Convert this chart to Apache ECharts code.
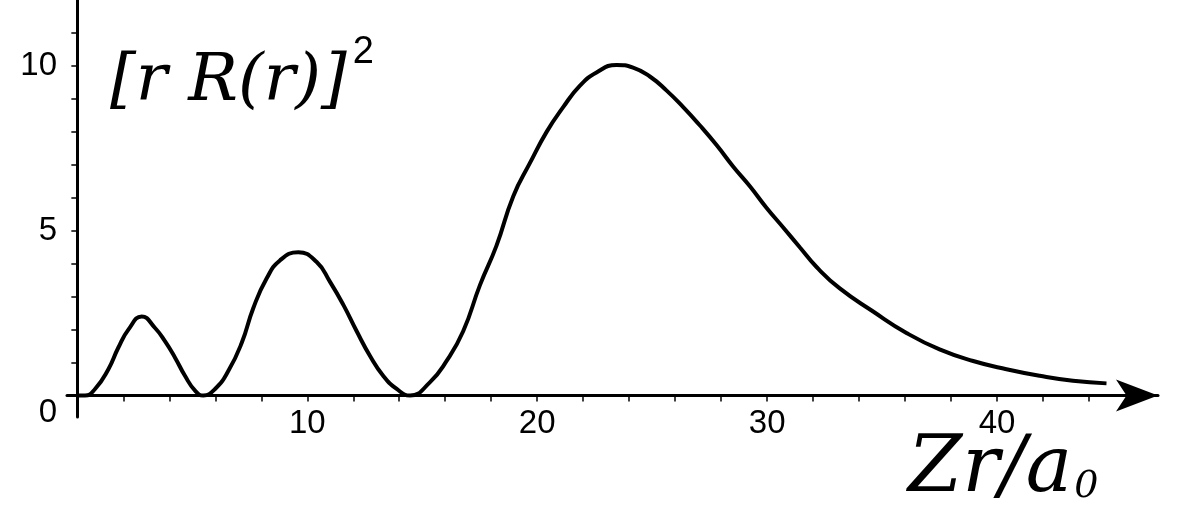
<!DOCTYPE html>
<html>
<head>
<meta charset="utf-8">
<script src="https://cdn.jsdelivr.net/npm/echarts@6/dist/echarts.min.js"></script>
<style>
html,body{margin:0;padding:0;background:#fff;}
#chart{width:1184px;height:511px;}
</style>
</head>
<body>
<div id="chart"></div>
<script>
// Data: x = Z r / a0, y = [r R(r)]^2
const xValues = [0, 0.33, 0.77, 1.35, 1.78, 2.22, 2.8, 3.38, 3.81, 4.25, 4.68, 5.12, 5.48, 5.99, 6.57, 7.15, 7.65, 8.23, 8.81, 9.61, 10.41, 10.99, 11.57, 12.15, 12.73, 13.3, 13.89, 14.47, 15.33, 16.06, 16.78, 17.51, 18.23, 18.96, 19.68, 20.41, 21.13, 21.86, 22.58, 23.45, 24.17, 24.9, 25.63, 26.35, 27.07, 27.8, 28.52, 29.25, 29.97, 30.7, 31.42, 32.15, 33.16, 34.61, 36.06, 37.5, 38.96, 40.41, 41.86, 43.3, 44.76];
const yValues = [0, 0, 0.2, 0.8, 1.45, 2.0, 2.4, 2.05, 1.65, 1.15, 0.6, 0.15, 0.0, 0.2, 0.75, 1.6, 2.65, 3.55, 4.1, 4.35, 4.05, 3.45, 2.75, 1.95, 1.2, 0.6, 0.2, 0.0, 0.4, 1.05, 1.95, 3.35, 4.55, 6.05, 7.05, 8.0, 8.75, 9.4, 9.8, 10.03, 9.95, 9.68, 9.25, 8.75, 8.2, 7.6, 6.95, 6.35, 5.7, 5.1, 4.5, 3.9, 3.25, 2.55, 1.9, 1.4, 1.05, 0.8, 0.6, 0.45, 0.37];
const xTickValues = [0, 2, 4, 6, 8, 10, 12, 14, 16, 18, 20, 22, 24, 26, 28, 30, 32, 34, 36, 38, 40, 42, 44, 46];
const xLabelValues = [10, 20, 30, 40];
const yTickValues = [0, 1, 2, 3, 4, 5, 6, 7, 8, 9, 10, 11];
const yLabelValues = [0, 5, 10];
const yAxisTitle = '[r R(r)]';
const xAxisTitle = 'Zr/a';

const points = xValues.map((x, i) => [x, yValues[i]]);

const chart = echarts.init(document.getElementById('chart'), null, {renderer: 'canvas'});
const labelFont = 'Liberation Sans, Arial, sans-serif';
chart.setOption({
  backgroundColor: '#ffffff',
  animation: false,
  grid: {left: 67, right: 26, top: -5, bottom: 94, containLabel: false},
  xAxis: {
    type: 'value', min: -0.45, max: 47,
    axisLine: {show: true, onZero: true, lineStyle: {color: '#000', width: 3},
      symbol: ['none', 'arrow'], symbolSize: [24, 42], symbolOffset: [0, 0]},
    axisTick: {show: true, inside: false, length: 6, lineStyle: {color: '#000', width: 1.5}, customValues: xTickValues},
    axisLabel: {show: true, customValues: xLabelValues, color: '#000', fontSize: 33, fontFamily: labelFont, margin: -10},
    splitLine: {show: false}
  },
  yAxis: {
    type: 'value', min: -0.65, max: 12,
    axisLine: {show: true, onZero: true, lineStyle: {color: '#000', width: 3}},
    axisTick: {show: true, inside: false, length: 6, lineStyle: {color: '#000', width: 1.5}, customValues: yTickValues},
    axisLabel: {show: true, customValues: yLabelValues, color: '#000', fontSize: 33, fontFamily: labelFont, margin: 10,
      formatter: v => v === 0 ? '{z|0}' : String(v),
      rich: {z: {fontSize: 33, fontFamily: labelFont, color: '#000', padding: [34, 0, 0, 0]}}},
    splitLine: {show: false}
  },
  series: [{
    type: 'line', data: points, smooth: true, symbol: 'none',
    lineStyle: {color: '#000', width: 4}, z: 3
  }],
  graphic: [
    {type: 'text', left: 110, top: 34, style: {
      text: '{t|' + yAxisTitle + '}{s|2}',
      rich: {
        t: {fontSize: 66, fontStyle: 'italic', fontFamily: 'DejaVu Serif, serif', fill: '#000', verticalAlign: 'bottom'},
        s: {fontSize: 38, fontFamily: labelFont, fill: '#000', verticalAlign: 'top', padding: [0, 0, 44, 6]}
      }}},
    {type: 'text', left: 908, top: 432, style: {
      text: '{t|' + xAxisTitle + '}{s|0}',
      rich: {
        t: {fontSize: 78, fontStyle: 'italic', fontFamily: 'DejaVu Serif, serif', fill: '#000'},
        s: {fontSize: 38, fontStyle: 'italic', fontFamily: 'DejaVu Serif, serif', fill: '#000', padding: [32, 0, 0, 2]}
      }}}
  ]
});
</script>
</body>
</html>
